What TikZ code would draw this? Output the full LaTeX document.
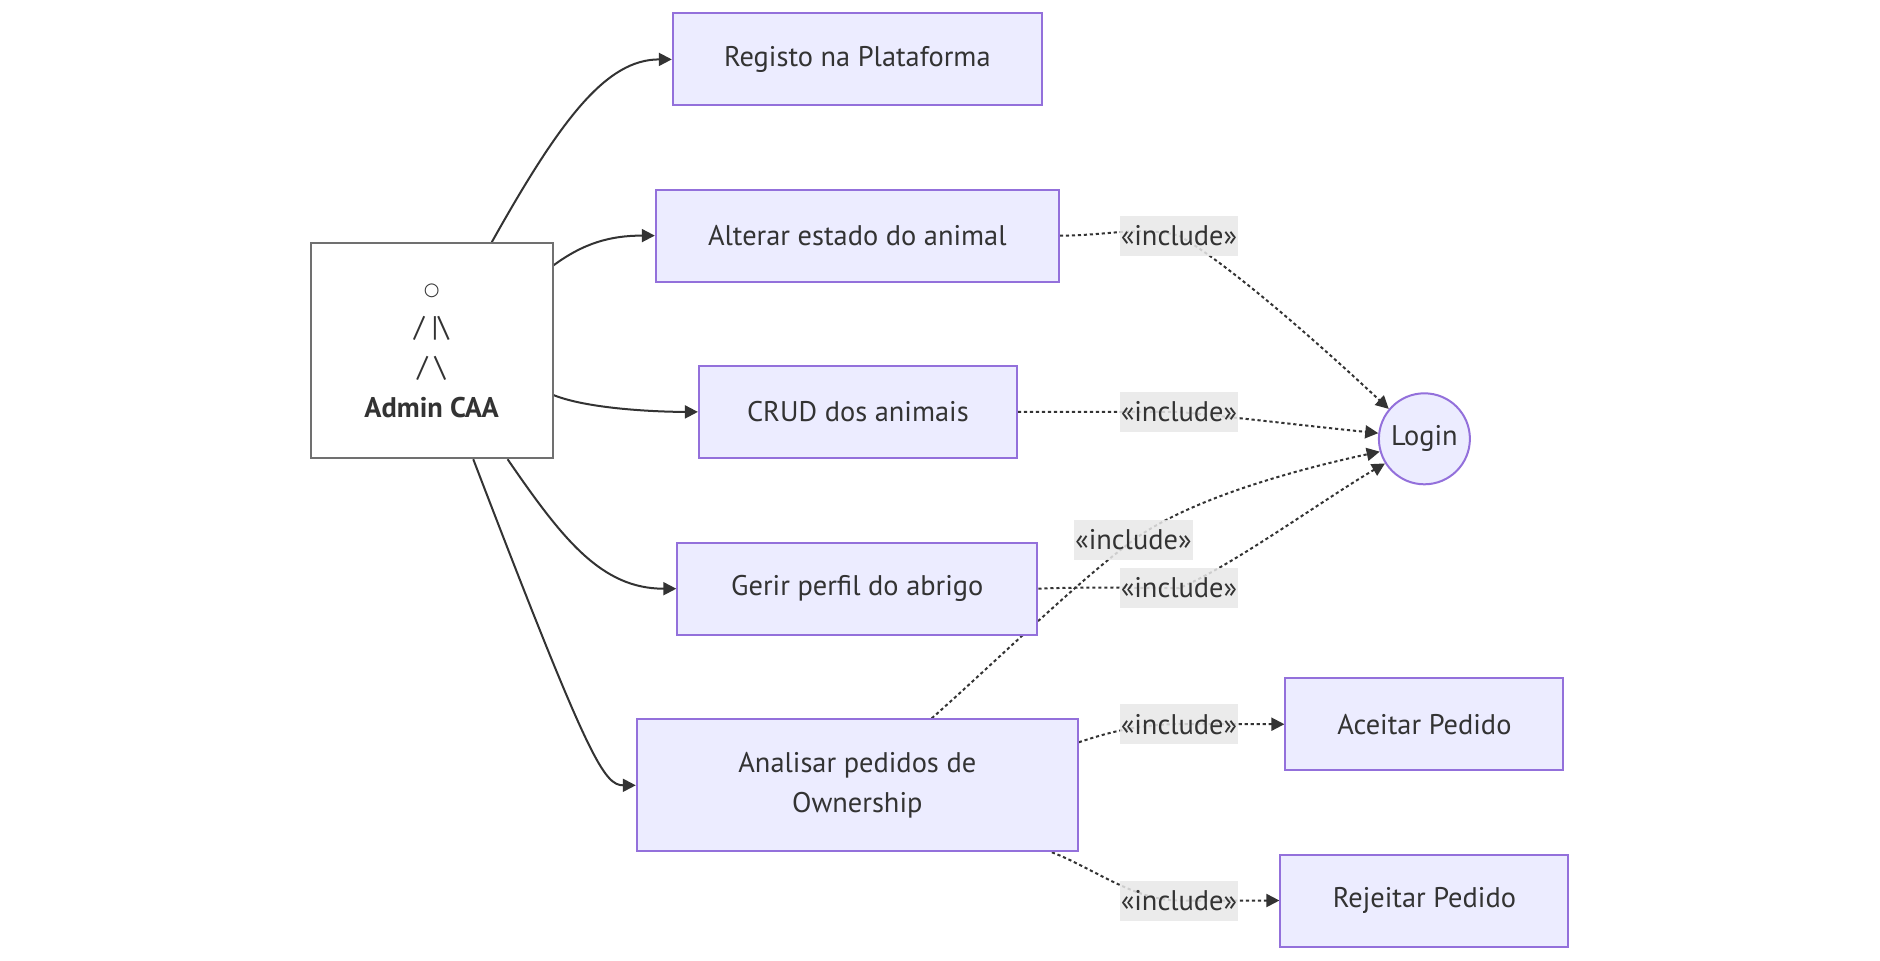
\documentclass[tikz,border=0pt]{standalone}
\usepackage{fontspec}
\setmainfont{PT Sans}
\newfontfamily\symfont{DejaVu Sans}
\usepackage{xcolor}
\definecolor{cFill}{HTML}{ECECFF}
\definecolor{cEdge}{HTML}{9370DB}
\definecolor{cLine}{HTML}{333333}
\definecolor{cActor}{HTML}{707070}
\definecolor{cLabel}{HTML}{E8E8E8}
\usetikzlibrary{arrows.meta,backgrounds}
\tikzset{
  node-uc/.style={draw=cEdge,line width=1pt,fill=cFill,text=cLine,
    minimum height=46pt,align=center,inner sep=0pt},
  node-actor/.style={draw=cActor,line width=1pt,fill=white,text=cLine,
    align=center,minimum width=121pt,minimum height=107.5pt},
  node-login/.style={draw=cEdge,line width=1pt,fill=cFill,text=cLine,
    circle,minimum size=45.5pt,inner sep=0pt},
  node-incl/.style={fill=cLabel,fill opacity=0.85,text opacity=1,text=cLine,
    inner sep=0.5pt,minimum height=20pt,minimum width=58pt},
  arrow/.style={-{Triangle[length=6.5pt,width=6.5pt]},line width=1pt,draw=cLine},
  arrow-incl/.style={arrow,dash pattern=on 1.6pt off 1.4pt},
}
\begin{document}
\begin{tikzpicture}[x=0.5pt,y=-0.5pt,font=\fontsize{14.2}{20.3}\selectfont]
  \useasboundingbox (0,0) rectangle (1880,960);
  % actor and use cases
  \node[node-actor] (adm) at (431.6,350.7)
    {{\symfont\fontsize{9}{20.3}\selectfont ○}\\/ |\textbackslash\\/ \textbackslash\\\textbf{Admin CAA}};
  \node[node-uc,minimum width=184.5pt] (reg) at (857.3,59.4)  {Registo na Plataforma};
  \node[node-uc,minimum width=201.5pt] (alt) at (857.3,235.6) {Alterar estado do animal};
  \node[node-uc,minimum width=159pt]   (crd) at (857.9,411.9) {CRUD dos animais};
  \node[node-uc,minimum width=180pt]   (ger) at (857.3,588.7) {Gerir perfil do abrigo};
  \node[node-uc,minimum width=220.5pt,minimum height=66pt] (ana) at (857.3,785.3)
    {Analisar pedidos de\\Ownership};
  \node[node-login] (login) at (1424.4,438.8) {Login};
  \node[node-uc,minimum width=139pt] (ace) at (1424.4,724.2) {Aceitar Pedido};
  \node[node-uc,minimum width=144pt] (rej) at (1424.4,900.5) {Rejeitar Pedido};
  % include labels
  \node[node-incl] (l1) at (1179,235.6) {«include»};
  \node[node-incl] (l2) at (1179,411.9) {«include»};
  \node[node-incl] (l3) at (1133.4,540) {«include»};
  \node[node-incl] (l4) at (1179,588.1) {«include»};
  \node[node-incl] (l5) at (1179,724.2) {«include»};
  \node[node-incl] (l6) at (1179,900.5) {«include»};
  \begin{scope}[on background layer]
    % associations
    \draw[arrow] (adm.61) .. controls +(70,-125) and +(-65,0) .. (reg.west);
    \draw[arrow] (adm.35) .. controls +(30,-22) and +(-45,0) .. (alt.west);
    \draw[arrow] (adm.-20) .. controls +(35,14) and +(-40,0) .. (crd.west);
    \draw[arrow] (adm.-55.7) .. controls +(55,80) and +(-75,0) .. (ger.west);
    \draw[arrow] (adm.-69.5) .. controls +(115,300) and +(-32,0) .. (ana.west);
    % includes
    \draw[arrow-incl] (alt.east) .. controls +(50,0) and +(-40,-10) .. (l1.center)
      .. controls +(60,35) and +(-45,-42) .. (login.140);
    \draw[arrow-incl] (crd.east) -- (l2.center)
      .. controls +(80,8) and +(-60,-6) .. (login.173);
    \draw[arrow-incl] (ana.42) .. controls +(60,-53) and +(-60,45) .. (l3.center)
      .. controls +(60,-44) and +(-70,15) .. (login.196);
    \draw[arrow-incl] (ger.east) .. controls +(40,-2) and +(-40,0) .. (l4.center)
      .. controls +(50,-20) and +(-60,35) .. (login.212);
    \draw[arrow-incl] (ana.11) .. controls +(30,-10) and +(-40,0) .. (l5.center) -- (ace.west);
    \draw[arrow-incl] (ana.-19.6) .. controls +(40,15) and +(-45,0) .. (l6.center) -- (rej.west);
  \end{scope}
\end{tikzpicture}
\end{document}
